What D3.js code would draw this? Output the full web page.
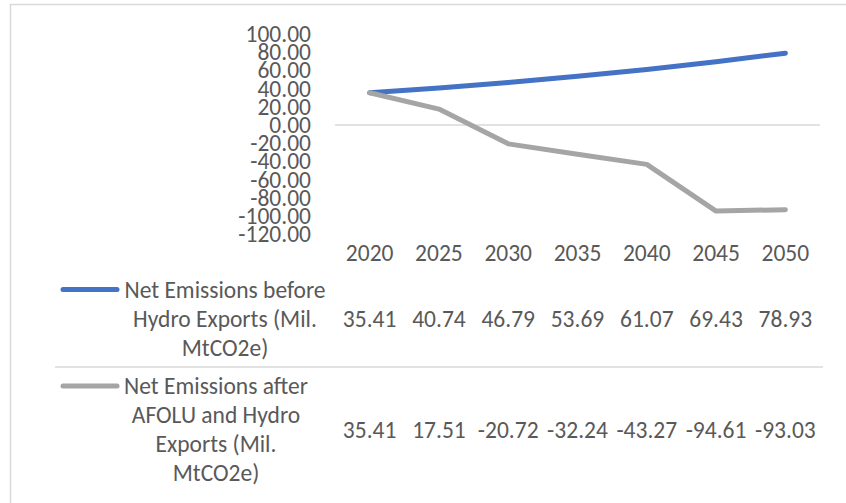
<!DOCTYPE html>
<html>
<head>
<meta charset="utf-8">
<script src="https://cdnjs.cloudflare.com/ajax/libs/d3/7.8.5/d3.min.js"></script>
<style>
    body { margin: 0; background: #fff; }
    text { font-family: Calibri, Carlito, "Open Sans", sans-serif; fill: #595959; }
</style>
</head>
<body>
<svg id="chart"></svg>
<script>
// chart data
let years = ["2020", "2025", "2030", "2035", "2040", "2045", "2050"];
let beforeValues = [35.41, 40.74, 46.79, 53.69, 61.07, 69.43, 78.93];
let afterValues = [35.41, 17.51, -20.72, -32.24, -43.27, -94.61, -93.03];
let beforeLabel = ["Net Emissions before", "Hydro Exports (Mil.", "MtCO2e)"];
let afterLabel = ["Net Emissions after", "AFOLU and Hydro", "Exports (Mil.", "MtCO2e)"];
let yTicks = [100, 80, 60, 40, 20, 0, -20, -40, -60, -80, -100, -120];

let width = 846;
let height = 503;
let fontSize = 23.5;
let lineGap = 29;

// plain hyphen for negatives, like the spreadsheet
let fmt = d3.formatLocale({
    decimal: ".", thousands: ",", grouping: [3], currency: ["", ""], minus: "-"
}).format(".2f");

let svg = d3.select("#chart")
    .attr("width", width)
    .attr("height", height);

// outer chart border (cut off at right and bottom)
svg.append("rect")
    .attr("x", 10.5)
    .attr("y", 4.5)
    .attr("width", 900)
    .attr("height", 600)
    .attr("fill", "none")
    .attr("stroke", "#d9d9d9")
    .attr("stroke-width", 1.5);

let xScale = d3.scaleBand()
    .domain(years)
    .range([335, 820]);

let yScale = d3.scaleLinear()
    .domain([-120, 100])
    .range([234.2, 34]);

let cx = d => xScale(d) + xScale.bandwidth() / 2;

// zero line
svg.append("line")
    .attr("x1", xScale.range()[0])
    .attr("x2", xScale.range()[1])
    .attr("y1", yScale(0))
    .attr("y2", yScale(0))
    .attr("stroke", "#d9d9d9")
    .attr("stroke-width", 1.5);

// y axis
let yAxis = d3.axisLeft(yScale)
    .tickValues(yTicks)
    .tickFormat(fmt)
    .tickSize(0)
    .tickPadding(0);

let yG = svg.append("g")
    .attr("transform", "translate(311,0)")
    .call(yAxis);
yG.select(".domain").remove();
yG.attr("font-family", null).attr("font-size", null);
yG.selectAll("text")
    .style("font-size", fontSize + "px");

// series lines
let series = [
    { values: beforeValues, color: "#4472C4", label: beforeLabel },
    { values: afterValues, color: "#A5A5A5", label: afterLabel }
];

let line = d3.line()
    .x((d, i) => cx(years[i]))
    .y(d => yScale(d));

series.forEach(s => {
    svg.append("path")
        .datum(s.values)
        .attr("fill", "none")
        .attr("stroke", s.color)
        .attr("stroke-width", 5)
        .attr("stroke-linecap", "round")
        .attr("stroke-linejoin", "round")
        .attr("d", line);
});

// category labels (data table header)
svg.selectAll(".year")
    .data(years)
    .enter()
    .append("text")
    .attr("class", "year")
    .attr("x", d => cx(d))
    .attr("y", 253)
    .attr("dy", "0.35em")
    .attr("text-anchor", "middle")
    .style("font-size", fontSize + "px")
    .text(d => d);

// data table rows
let rowTops = [289.5, 386];
let labelCenters = [225, 216];

series.forEach((s, r) => {
    let top = rowTops[r];
    let mid = top + (s.label.length - 1) * lineGap / 2;

    // legend key
    svg.append("line")
        .attr("x1", 63)
        .attr("x2", 117)
        .attr("y1", top)
        .attr("y2", top)
        .attr("stroke", s.color)
        .attr("stroke-width", 5)
        .attr("stroke-linecap", "round");

    s.label.forEach((t, i) => {
        svg.append("text")
            .attr("x", labelCenters[r])
            .attr("y", top + i * lineGap)
            .attr("dy", "0.35em")
            .attr("text-anchor", "middle")
            .style("font-size", fontSize + "px")
            .text(t);
    });

    svg.selectAll(".val" + r)
        .data(s.values)
        .enter()
        .append("text")
        .attr("class", "val" + r)
        .attr("x", (d, i) => cx(years[i]))
        .attr("y", mid)
        .attr("dy", "0.35em")
        .attr("text-anchor", "middle")
        .style("font-size", fontSize + "px")
        .text(d => fmt(d));
});

// separator between table rows
svg.append("line")
    .attr("x1", 55)
    .attr("x2", 823)
    .attr("y1", 367)
    .attr("y2", 367)
    .attr("stroke", "#d9d9d9")
    .attr("stroke-width", 1.5);
</script>
</body>
</html>
